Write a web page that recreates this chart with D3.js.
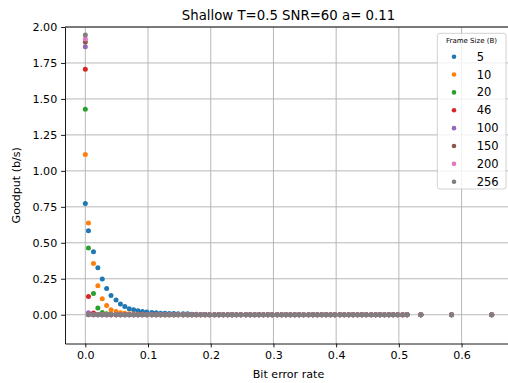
<!DOCTYPE html>
<html>
<head>
<meta charset="utf-8">
<script src="https://cdn.jsdelivr.net/npm/d3@7"></script>
<style>
body { margin: 0; background: #fff; }
text { font-family: "DejaVu Sans", sans-serif; fill: #000; }
</style>
</head>
<body>
<script>
// bit error rate on x, shared by all frame sizes
var ber = [0, 0.005, 0.013, 0.020, 0.027, 0.034, 0.041, 0.049, 0.056, 0.063,
    0.070, 0.077, 0.084, 0.091, 0.098, 0.106, 0.113, 0.120, 0.127, 0.134,
    0.141, 0.148, 0.156, 0.163, 0.170, 0.177, 0.184, 0.191, 0.198, 0.206,
    0.213, 0.220, 0.227, 0.234, 0.241, 0.248, 0.256, 0.263, 0.270, 0.277,
    0.284, 0.291, 0.298, 0.306, 0.313, 0.320, 0.327, 0.334, 0.341, 0.348,
    0.356, 0.363, 0.370, 0.377, 0.384, 0.391, 0.398, 0.406, 0.413, 0.420,
    0.427, 0.434, 0.441, 0.448, 0.456, 0.463, 0.470, 0.477, 0.484, 0.491,
    0.498, 0.506, 0.513, 0.535, 0.584, 0.648];

var frameSizes = ["5", "10", "20", "46", "100", "150", "200", "256"];
var colors = ["#1f77b4", "#ff7f0e", "#2ca02c", "#d62728", "#9467bd", "#8c564b", "#e377c2", "#7f7f7f"];

// goodput per frame size, one value per ber point
var gp5 = [0.773, 0.583, 0.438, 0.326, 0.248, 0.183, 0.134, 0.102, 0.074, 0.058,
    0.042, 0.035, 0.028, 0.023, 0.019, 0.016, 0.013, 0.011, 0.010, 0.009,
    0.008, 0.007, 0.007, 0.006, 0.004, 0.003, 0.002, 0.001, 0, 0,
    0, 0, 0, 0, 0, 0, 0, 0, 0, 0, 0, 0, 0, 0, 0, 0, 0, 0, 0, 0,
    0, 0, 0, 0, 0, 0, 0, 0, 0, 0, 0, 0, 0, 0, 0, 0, 0, 0, 0, 0,
    0, 0, 0, 0, 0, 0];
var gp10 = [1.113, 0.637, 0.356, 0.201, 0.111, 0.065, 0.035, 0.022, 0.014, 0.010,
    0.007, 0.005, 0.004, 0.003, 0.002, 0.001, 0, 0, 0, 0,
    0, 0, 0, 0, 0, 0, 0, 0, 0, 0, 0, 0, 0, 0, 0, 0, 0, 0, 0, 0,
    0, 0, 0, 0, 0, 0, 0, 0, 0, 0, 0, 0, 0, 0, 0, 0, 0, 0, 0, 0,
    0, 0, 0, 0, 0, 0, 0, 0, 0, 0, 0, 0, 0, 0, 0, 0];
var gp20 = [1.428, 0.463, 0.148, 0.046, 0.016, 0.006, 0.003, 0.001, 0, 0,
    0, 0, 0, 0, 0, 0, 0, 0, 0, 0, 0, 0, 0, 0, 0, 0, 0, 0, 0, 0,
    0, 0, 0, 0, 0, 0, 0, 0, 0, 0, 0, 0, 0, 0, 0, 0, 0, 0, 0, 0,
    0, 0, 0, 0, 0, 0, 0, 0, 0, 0, 0, 0, 0, 0, 0, 0, 0, 0, 0, 0,
    0, 0, 0, 0, 0, 0];
var gp46 = [1.706, 0.127, 0.012, 0.002, 0, 0, 0, 0, 0, 0,
    0, 0, 0, 0, 0, 0, 0, 0, 0, 0, 0, 0, 0, 0, 0, 0, 0, 0, 0, 0,
    0, 0, 0, 0, 0, 0, 0, 0, 0, 0, 0, 0, 0, 0, 0, 0, 0, 0, 0, 0,
    0, 0, 0, 0, 0, 0, 0, 0, 0, 0, 0, 0, 0, 0, 0, 0, 0, 0, 0, 0,
    0, 0, 0, 0, 0, 0];
var gp100 = [1.863, 0.014, 0, 0, 0, 0, 0, 0, 0, 0,
    0, 0, 0, 0, 0, 0, 0, 0, 0, 0, 0, 0, 0, 0, 0, 0, 0, 0, 0, 0,
    0, 0, 0, 0, 0, 0, 0, 0, 0, 0, 0, 0, 0, 0, 0, 0, 0, 0, 0, 0,
    0, 0, 0, 0, 0, 0, 0, 0, 0, 0, 0, 0, 0, 0, 0, 0, 0, 0, 0, 0,
    0, 0, 0, 0, 0, 0];
var gp150 = [1.896, 0.002, 0, 0, 0, 0, 0, 0, 0, 0,
    0, 0, 0, 0, 0, 0, 0, 0, 0, 0, 0, 0, 0, 0, 0, 0, 0, 0, 0, 0,
    0, 0, 0, 0, 0, 0, 0, 0, 0, 0, 0, 0, 0, 0, 0, 0, 0, 0, 0, 0,
    0, 0, 0, 0, 0, 0, 0, 0, 0, 0, 0, 0, 0, 0, 0, 0, 0, 0, 0, 0,
    0, 0, 0, 0, 0, 0];
var gp200 = [1.917, 0, 0, 0, 0, 0, 0, 0, 0, 0,
    0, 0, 0, 0, 0, 0, 0, 0, 0, 0, 0, 0, 0, 0, 0, 0, 0, 0, 0, 0,
    0, 0, 0, 0, 0, 0, 0, 0, 0, 0, 0, 0, 0, 0, 0, 0, 0, 0, 0, 0,
    0, 0, 0, 0, 0, 0, 0, 0, 0, 0, 0, 0, 0, 0, 0, 0, 0, 0, 0, 0,
    0, 0, 0, 0, 0, 0];
var gp256 = [1.944, 0, 0, 0, 0, 0, 0, 0, 0, 0,
    0, 0, 0, 0, 0, 0, 0, 0, 0, 0, 0, 0, 0, 0, 0, 0, 0, 0, 0, 0,
    0, 0, 0, 0, 0, 0, 0, 0, 0, 0, 0, 0, 0, 0, 0, 0, 0, 0, 0, 0,
    0, 0, 0, 0, 0, 0, 0, 0, 0, 0, 0, 0, 0, 0, 0, 0, 0, 0, 0, 0,
    0, 0, 0, 0, 0, 0];

var xTicks = [0, 0.1, 0.2, 0.3, 0.4, 0.5, 0.6];
var yTicks = [0, 0.25, 0.5, 0.75, 1.0, 1.25, 1.5, 1.75, 2.0];

var series = [gp5, gp10, gp20, gp46, gp100, gp150, gp200, gp256];

var width = 508, height = 383;
// plot box (right edge runs past the window like in the picture)
var plotL = 65, plotR = 512, plotT = 27, plotB = 343.5;

var svg = d3.select("body").append("svg")
    .attr("width", width)
    .attr("height", height);

var x = d3.scaleLinear().domain([-0.0324, 0.6804]).range([plotL, plotR]);
var y = d3.scaleLinear().domain([-0.2, 2.0]).range([plotB, plotT]);

// grid
svg.append("g").selectAll("line").data(xTicks).enter().append("line")
    .attr("x1", d => x(d)).attr("x2", d => x(d))
    .attr("y1", plotT).attr("y2", plotB)
    .attr("stroke", "#b0b0b0").attr("stroke-width", 0.9);
svg.append("g").selectAll("line").data(yTicks).enter().append("line")
    .attr("x1", plotL).attr("x2", plotR)
    .attr("y1", d => y(d)).attr("y2", d => y(d))
    .attr("stroke", "#b0b0b0").attr("stroke-width", 0.9);

// points, one group per frame size
series.forEach(function(vals, k) {
    svg.append("g").selectAll("circle").data(vals).enter().append("circle")
        .attr("cx", (d, i) => x(ber[i]))
        .attr("cy", d => y(d))
        .attr("r", 2.5)
        .attr("fill", colors[k]);
});

// axes
var xAxis = svg.append("g").attr("transform", "translate(0," + plotB + ")")
    .call(d3.axisBottom(x).tickValues(xTicks).tickFormat(d3.format(".1f")).tickSizeInner(3.9).tickSizeOuter(0).tickPadding(3.9));
var yAxis = svg.append("g").attr("transform", "translate(" + plotL + ",0)")
    .call(d3.axisLeft(y).tickValues(yTicks).tickFormat(d3.format(".2f")).tickSizeInner(3.9).tickSizeOuter(0).tickPadding(3.9));
[xAxis, yAxis].forEach(function(a) {
    a.selectAll("text").style("font-size", "11.1px").attr("fill", "#000")
        .style("font-family", "'DejaVu Sans', sans-serif");
    a.selectAll("line").attr("stroke", "#000").attr("stroke-width", 0.9);
    a.select(".domain").attr("stroke", "#000").attr("stroke-width", 0.9);
});
svg.append("line").attr("x1", plotL).attr("x2", plotR).attr("y1", plotT).attr("y2", plotT)
    .attr("stroke", "#000").attr("stroke-width", 0.9);

// labels
svg.append("text").text("Shallow T=0.5 SNR=60 a= 0.11")
    .attr("x", (plotL + plotR) / 2).attr("y", 19.5)
    .attr("text-anchor", "middle").style("font-size", "13.3px");
svg.append("text").text("Bit error rate")
    .attr("x", (plotL + plotR) / 2).attr("y", 378)
    .attr("text-anchor", "middle").style("font-size", "11.1px");
svg.append("text").text("Goodput (b/s)")
    .attr("transform", "translate(19.5," + (plotT + plotB) / 2 + ") rotate(-90)")
    .attr("text-anchor", "middle").style("font-size", "11.1px");

// legend
var lg = svg.append("g");
lg.append("rect").attr("x", 437.3).attr("y", 33.3).attr("width", 68.7).attr("height", 155.7)
    .attr("rx", 2.5).attr("fill", "#fff").attr("fill-opacity", 0.8)
    .attr("stroke", "#cccccc").attr("stroke-width", 0.9);
lg.append("text").text("Frame Size (B)")
    .attr("x", 471.5).attr("y", 40.5).attr("text-anchor", "middle")
    .attr("dominant-baseline", "central").style("font-size", "7px");
frameSizes.forEach(function(name, k) {
    var yy = 56.7 + k * 17.86;
    lg.append("circle").attr("cx", 454).attr("cy", yy).attr("r", 2.3).attr("fill", colors[k]);
    lg.append("text").text(name).attr("x", 476.7).attr("y", yy)
        .attr("dominant-baseline", "central").style("font-size", "11.5px");
});
</script>
</body>
</html>
